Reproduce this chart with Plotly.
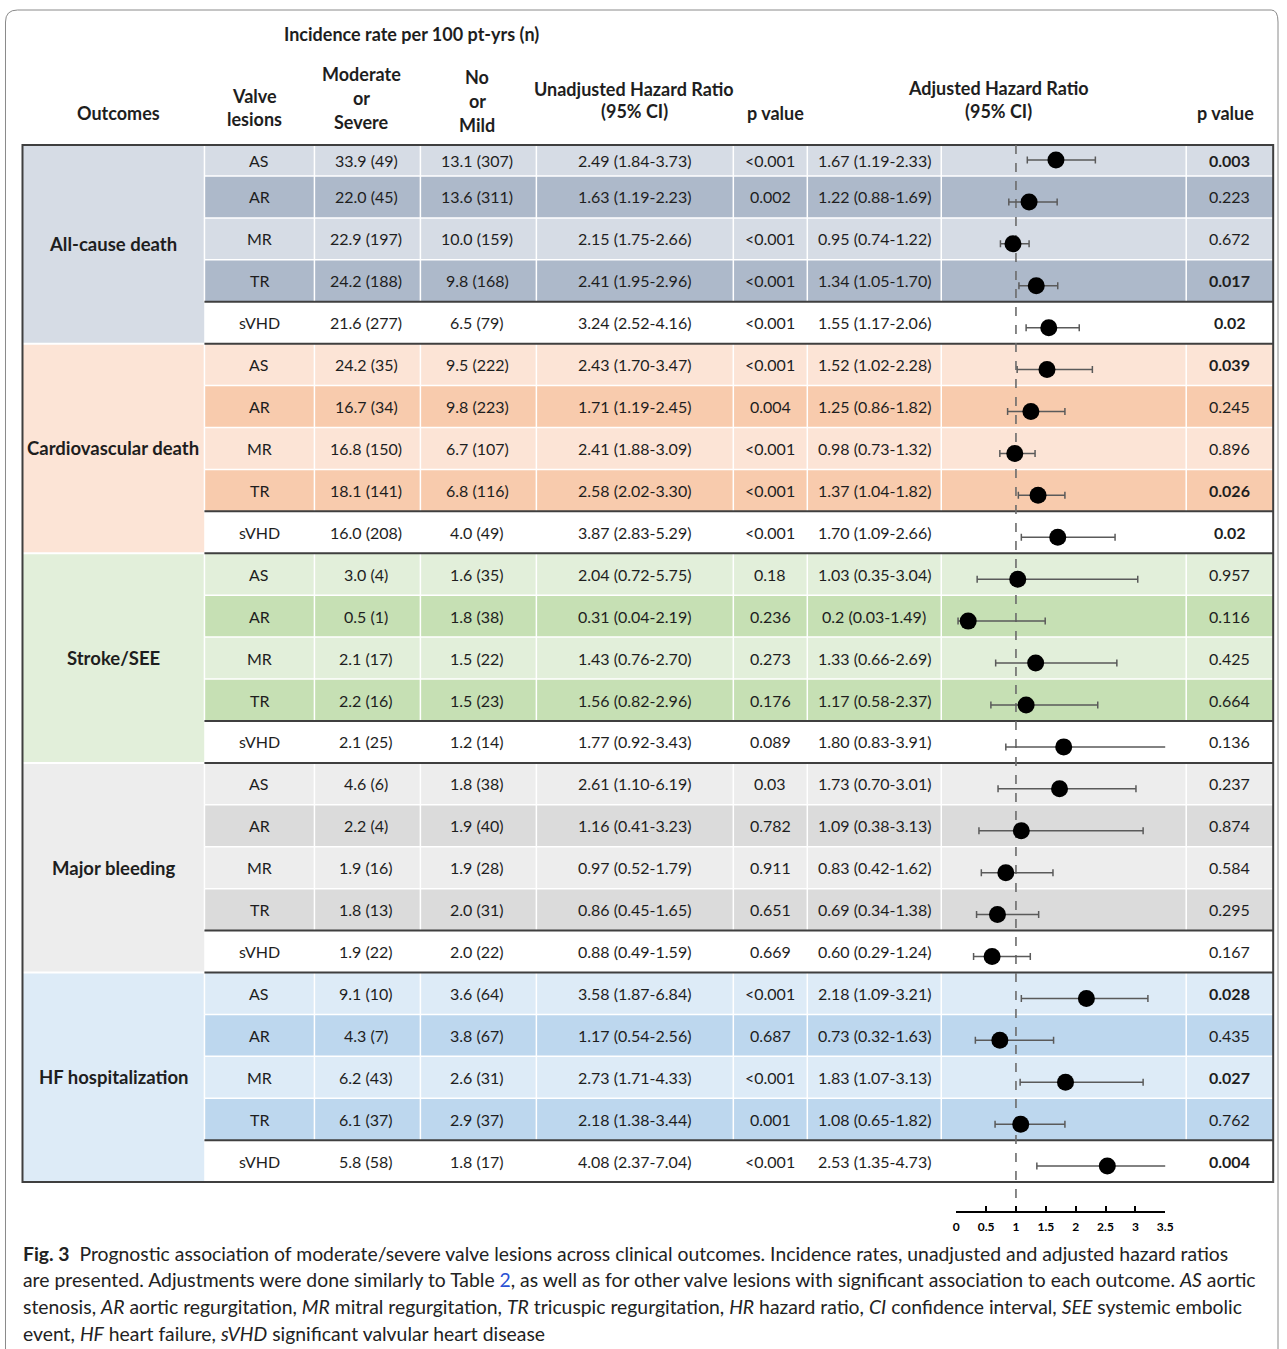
import plotly.graph_objects as go

W, H = 1287, 1349   # figure size; coordinates below are reference pixels

# ---------------- data ----------------
outcomes = ["All-cause death", "Cardiovascular death", "Stroke/SEE", "Major bleeding", "HF hospitalization"]
lesions = ["AS", "AR", "MR", "TR", "sVHD"]

mod_severe = ["33.9 (49)", "22.0 (45)", "22.9 (197)", "24.2 (188)", "21.6 (277)",
              "24.2 (35)", "16.7 (34)", "16.8 (150)", "18.1 (141)", "16.0 (208)",
              "3.0 (4)", "0.5 (1)", "2.1 (17)", "2.2 (16)", "2.1 (25)",
              "4.6 (6)", "2.2 (4)", "1.9 (16)", "1.8 (13)", "1.9 (22)",
              "9.1 (10)", "4.3 (7)", "6.2 (43)", "6.1 (37)", "5.8 (58)"]
no_mild = ["13.1 (307)", "13.6 (311)", "10.0 (159)", "9.8 (168)", "6.5 (79)",
           "9.5 (222)", "9.8 (223)", "6.7 (107)", "6.8 (116)", "4.0 (49)",
           "1.6 (35)", "1.8 (38)", "1.5 (22)", "1.5 (23)", "1.2 (14)",
           "1.8 (38)", "1.9 (40)", "1.9 (28)", "2.0 (31)", "2.0 (22)",
           "3.6 (64)", "3.8 (67)", "2.6 (31)", "2.9 (37)", "1.8 (17)"]
unadj_hr = ["2.49 (1.84-3.73)", "1.63 (1.19-2.23)", "2.15 (1.75-2.66)", "2.41 (1.95-2.96)", "3.24 (2.52-4.16)",
            "2.43 (1.70-3.47)", "1.71 (1.19-2.45)", "2.41 (1.88-3.09)", "2.58 (2.02-3.30)", "3.87 (2.83-5.29)",
            "2.04 (0.72-5.75)", "0.31 (0.04-2.19)", "1.43 (0.76-2.70)", "1.56 (0.82-2.96)", "1.77 (0.92-3.43)",
            "2.61 (1.10-6.19)", "1.16 (0.41-3.23)", "0.97 (0.52-1.79)", "0.86 (0.45-1.65)", "0.88 (0.49-1.59)",
            "3.58 (1.87-6.84)", "1.17 (0.54-2.56)", "2.73 (1.71-4.33)", "2.18 (1.38-3.44)", "4.08 (2.37-7.04)"]
unadj_p = ["<0.001", "0.002", "<0.001", "<0.001", "<0.001",
           "<0.001", "0.004", "<0.001", "<0.001", "<0.001",
           "0.18", "0.236", "0.273", "0.176", "0.089",
           "0.03", "0.782", "0.911", "0.651", "0.669",
           "<0.001", "0.687", "<0.001", "0.001", "<0.001"]
adj_hr_text = ["1.67 (1.19-2.33)", "1.22 (0.88-1.69)", "0.95 (0.74-1.22)", "1.34 (1.05-1.70)", "1.55 (1.17-2.06)",
               "1.52 (1.02-2.28)", "1.25 (0.86-1.82)", "0.98 (0.73-1.32)", "1.37 (1.04-1.82)", "1.70 (1.09-2.66)",
               "1.03 (0.35-3.04)", "0.2 (0.03-1.49)", "1.33 (0.66-2.69)", "1.17 (0.58-2.37)", "1.80 (0.83-3.91)",
               "1.73 (0.70-3.01)", "1.09 (0.38-3.13)", "0.83 (0.42-1.62)", "0.69 (0.34-1.38)", "0.60 (0.29-1.24)",
               "2.18 (1.09-3.21)", "0.73 (0.32-1.63)", "1.83 (1.07-3.13)", "1.08 (0.65-1.82)", "2.53 (1.35-4.73)"]
adj_hr = [1.67, 1.22, 0.95, 1.34, 1.55,
          1.52, 1.25, 0.98, 1.37, 1.70,
          1.03, 0.2, 1.33, 1.17, 1.80,
          1.73, 1.09, 0.83, 0.69, 0.60,
          2.18, 0.73, 1.83, 1.08, 2.53]
adj_lo = [1.19, 0.88, 0.74, 1.05, 1.17,
          1.02, 0.86, 0.73, 1.04, 1.09,
          0.35, 0.03, 0.66, 0.58, 0.83,
          0.70, 0.38, 0.42, 0.34, 0.29,
          1.09, 0.32, 1.07, 0.65, 1.35]
adj_hi = [2.33, 1.69, 1.22, 1.70, 2.06,
          2.28, 1.82, 1.32, 1.82, 2.66,
          3.04, 1.49, 2.69, 2.37, 3.91,
          3.01, 3.13, 1.62, 1.38, 1.24,
          3.21, 1.63, 3.13, 1.82, 4.73]
adj_p = ["0.003", "0.223", "0.672", "0.017", "0.02",
         "0.039", "0.245", "0.896", "0.026", "0.02",
         "0.957", "0.116", "0.425", "0.664", "0.136",
         "0.237", "0.874", "0.584", "0.295", "0.167",
         "0.028", "0.435", "0.027", "0.762", "0.004"]
axis_ticks = [0, 0.5, 1, 1.5, 2, 2.5, 3, 3.5]
reference_hr = 1

# ---------------- styles / layout constants ----------------
group_colors = [("#d6dce5", "#adb9ca"), ("#fce4d6", "#f8cbad"), ("#e2efda", "#c6e0b4"),
                ("#ededed", "#dbdbdb"), ("#ddebf7", "#bdd7ee")]
FONT = "Lato, 'Open Sans', sans-serif"
TXT = "#1e1e1e"
DARK = "#3f3f3f"
BODY = 16
HEAD = 18
cols = [22, 204, 314, 420, 536, 733, 807, 941, 1186, 1273]
TOP, FIRST_H, ROW_H = 145, 31, 41.92
n_rows = len(adj_hr)
bounds = [TOP] + [TOP + FIRST_H + k * ROW_H for k in range(n_rows)]
MARK_Y0 = 160
AX_Y = 1212
X_OFF, X_SCALE = 2.5, 0.9917   # horizontal calibration of the rendered page


def px(x):
    return min((x - X_OFF) / X_SCALE, W - 1) / W


def py(y):
    return 1 - y / H


shapes = []
annotations = []


def rect(x0, y0, x1, y1, fill):
    shapes.append(dict(type="rect", xref="paper", yref="paper", x0=px(x0), x1=px(x1),
                       y0=py(y1), y1=py(y0), fillcolor=fill, line=dict(width=0), layer="below"))


def hline(x0, x1, y, color, width):
    shapes.append(dict(type="line", xref="paper", yref="paper", x0=px(x0), x1=px(x1),
                       y0=py(y), y1=py(y), line=dict(color=color, width=width), layer="below"))


def vline(x, y0, y1, color, width):
    shapes.append(dict(type="line", xref="paper", yref="paper", x0=px(x), x1=px(x),
                       y0=py(y0), y1=py(y1), line=dict(color=color, width=width), layer="below"))


def text(x, y, s, size=BODY, bold=False, xanchor="center", color=TXT):
    annotations.append(dict(x=px(x), y=py(y), xref="paper", yref="paper", text=s, showarrow=False,
                            xanchor=xanchor, yanchor="middle",
                            font=dict(family=FONT, size=size, color=color,
                                      weight="bold" if bold else "normal")))


# outer rounded frame
fx0, fy0, fx1 = 5, 10, 1283
path = (f"M {px(fx0)},{py(H + 5)} L {px(fx0)},{py(fy0 + 12)} Q {px(fx0)},{py(fy0)} {px(fx0 + 12)},{py(fy0)} "
        f"L {px(fx1 - 12)},{py(fy0)} Q {px(fx1)},{py(fy0)} {px(fx1)},{py(fy0 + 12)} L {px(fx1)},{py(H + 5)}")
shapes.append(dict(type="path", xref="paper", yref="paper", path=path,
                   line=dict(color="#8a8a8a", width=1), layer="below"))

# cell backgrounds
for g in range(len(outcomes)):
    light, dark = group_colors[g]
    rect(cols[0], bounds[5 * g], cols[1], bounds[5 * g + 5], light)
    for k in range(5):
        r = 5 * g + k
        fill = "white" if k == 4 else (light if k % 2 == 0 else dark)
        rect(cols[1], bounds[r], cols[-1], bounds[r + 1], fill)

# white grid lines inside coloured rows
for g in range(len(outcomes)):
    for k in range(4):
        r = 5 * g + k
        for c in cols[1:-1]:
            vline(c, bounds[r], bounds[r + 1], "white", 1.5)
        if k > 0:
            hline(cols[1], cols[-1], bounds[r], "white", 1.5)
    if g > 0:
        hline(cols[0], cols[1], bounds[5 * g], "white", 2)

# dark lines
for g in range(len(outcomes)):
    hline(cols[1], cols[-1], bounds[5 * g + 4], DARK, 2)
    if g < len(outcomes) - 1:
        hline(cols[1], cols[-1], bounds[5 * g + 5], DARK, 2)
shapes.append(dict(type="rect", xref="paper", yref="paper", x0=px(cols[0]), x1=px(cols[-1]),
                   y0=py(bounds[-1]), y1=py(bounds[0]), line=dict(color=DARK, width=2), layer="below"))

# reference dashed line at HR = 1
shapes.append(dict(type="line", xref="x", yref="y", x0=reference_hr, x1=reference_hr, y0=TOP, y1=AX_Y,
                   line=dict(color="#6b6b6b", width=1.6, dash="dash"), layer="below"))

# body text
centers = [(bounds[i] + bounds[i + 1]) / 2 for i in range(n_rows)]
colc = [(cols[i] + cols[i + 1]) / 2 for i in range(len(cols) - 1)]
for g, name in enumerate(outcomes):
    text(113, (bounds[5 * g] + bounds[5 * g + 5]) / 2, name, size=18.5, bold=True)
for i in range(n_rows):
    y = centers[i]
    text(colc[1], y, lesions[i % 5])
    text(colc[2] - 1, y, mod_severe[i])
    text(colc[3] - 1, y, no_mild[i])
    text(colc[4], y, unadj_hr[i])
    text(colc[5], y, unadj_p[i])
    text(colc[6], y, adj_hr_text[i])
    text(colc[8], y, adj_p[i], bold=float(adj_p[i]) < 0.05)

# header
text(411, 34, "Incidence rate per 100 pt-yrs (n)", size=HEAD, bold=True)
text(118, 113, "Outcomes", size=HEAD, bold=True)
text(254, 96, "Valve", size=HEAD, bold=True)
text(254, 119, "lesions", size=HEAD, bold=True)
for j, s in enumerate(["Moderate", "or", "Severe"]):
    text(361, 74 + 24 * j, s, size=HEAD, bold=True)
for j, s in enumerate(["No", "or", "Mild"]):
    text(477, 77 + 24 * j, s, size=HEAD, bold=True)
text(634, 89, "Unadjusted Hazard Ratio", size=HEAD, bold=True)
text(634, 111, "(95% CI)", size=HEAD, bold=True)
text(775, 113, "p value", size=HEAD, bold=True)
text(998, 88, "Adjusted Hazard Ratio", size=HEAD, bold=True)
text(998, 111, "(95% CI)", size=HEAD, bold=True)
text(1225, 113, "p value", size=HEAD, bold=True)

# caption
cap = [
    "<b>Fig. 3</b>  Prognostic association of moderate/severe valve lesions across clinical outcomes. Incidence rates, unadjusted and adjusted hazard ratios",
    "are presented. Adjustments were done similarly to Table <span style='color:#2a52d4'>2</span>, as well as for other valve lesions with significant association to each outcome. <i>AS</i> aortic",
    "stenosis, <i>AR</i> aortic regurgitation, <i>MR</i> mitral regurgitation, <i>TR</i> tricuspic regurgitation, <i>HR</i> hazard ratio, <i>CI</i> confidence interval, <i>SEE</i> systemic embolic",
    "event, <i>HF</i> heart failure, <i>sVHD</i> significant valvular heart disease",
]
for j, s in enumerate(cap):
    text(21, 1253 + 26.7 * j, s, size=19.35, xanchor="left", color="#222222")

# ---------------- forest plot ----------------
marker_y = [MARK_Y0 + i * ROW_H for i in range(n_rows)]
err_plus = [h - m for h, m in zip(adj_hi, adj_hr)]
err_minus = [m - l for m, l in zip(adj_hr, adj_lo)]

fig = go.Figure()
fig.add_trace(go.Scatter(
    x=adj_hr, y=marker_y, mode="markers",
    marker=dict(size=17, color="black"),
    error_x=dict(type="data", symmetric=False, array=err_plus, arrayminus=err_minus,
                 color="#5a5a5a", thickness=1.5, width=3.5),
    hoverinfo="skip", showlegend=False,
))

fig.update_layout(
    width=W, height=H, autosize=False,
    margin=dict(l=0, r=0, t=0, b=0),
    paper_bgcolor="white", plot_bgcolor="rgba(0,0,0,0)",
    shapes=shapes, annotations=annotations,
    xaxis=dict(domain=[px(956), px(1165)], range=[0, 3.5], anchor="free", position=1 - AX_Y / H,
               tickvals=axis_ticks, ticks="inside", ticklen=5, tickwidth=1.5, tickcolor="black",
               ticklabelstandoff=4,
               showline=True, linecolor="black", linewidth=2, showgrid=False, zeroline=False,
               tickfont=dict(family=FONT, size=12, color="black", weight="bold")),
    yaxis=dict(domain=[0, 1], range=[H, 0], visible=False, showgrid=False, zeroline=False),
)

fig.write_html(
    "out.html",
    config={"responsive": False, "displayModeBar": False},
    post_script="document.body.style.margin='0';document.body.style.padding='0';"
                "document.documentElement.style.overflow='hidden';document.body.style.overflow='hidden';",
)
